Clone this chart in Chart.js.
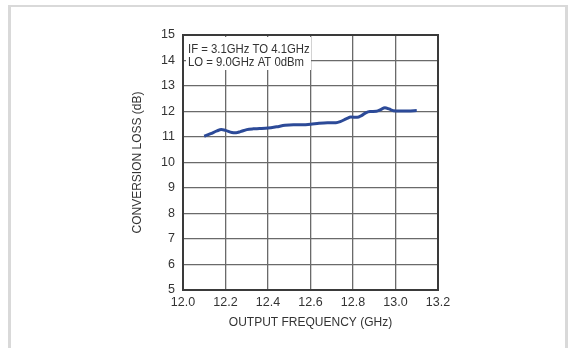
<!DOCTYPE html>
<html>
<head>
<meta charset="utf-8">
<script src="https://cdn.jsdelivr.net/npm/chart.js@4/dist/chart.umd.min.js"></script>
<style>
  html, body { margin: 0; padding: 0; background: #ffffff; width: 568px; height: 348px; overflow: hidden; }
  #frame { position: absolute; left: 8px; top: 5px; width: 554px; height: 360px; border: 3px solid #d9d9d9; border-top-width: 2px; box-sizing: content-box; }
  #wrap { position: absolute; left: 0; top: 0; width: 568px; height: 348px; }
</style>
</head>
<body>
<div id="frame"></div>
<div id="wrap"><canvas id="c" width="568" height="348"></canvas></div>
<script>
// ---- data ----
const freqGHz = [12.10, 12.13, 12.16, 12.18, 12.20, 12.23, 12.25, 12.27, 12.30, 12.33, 12.36, 12.40, 12.44, 12.48, 12.52, 12.56, 12.60, 12.64, 12.68, 12.72, 12.74, 12.77, 12.79, 12.82, 12.84, 12.86, 12.88, 12.91, 12.93, 12.95, 12.97, 12.99, 13.02, 13.06, 13.10];
const conversionLossDb = [11.03, 11.13, 11.24, 11.29, 11.26, 11.18, 11.17, 11.21, 11.29, 11.32, 11.33, 11.35, 11.40, 11.46, 11.48, 11.48, 11.50, 11.54, 11.56, 11.56, 11.60, 11.72, 11.78, 11.77, 11.84, 11.95, 12.00, 12.01, 12.07, 12.15, 12.10, 12.03, 12.02, 12.02, 12.04];
const xTickValues = [12.0, 12.2, 12.4, 12.6, 12.8, 13.0, 13.2];
const yTickValues = [5, 6, 7, 8, 9, 10, 11, 12, 13, 14, 15];
const annotationLines = ["IF = 3.1GHz TO 4.1GHz", "LO = 9.0GHz AT 0dBm"];
const xTitle = "OUTPUT FREQUENCY (GHz)";
const yTitle = "CONVERSION LOSS (dB)";

const FONT = "'Liberation Sans', Arial, sans-serif";
const TEXT = '#333333';

const points = freqGHz.map((f, i) => ({ x: f, y: conversionLossDb[i] }));

const framePlugin = {
  id: 'frameAndNote',
  beforeDatasetsDraw(chart) {
    const { ctx, chartArea: a } = chart;
    ctx.save();
    // annotation box (white, covers grid)
    ctx.fillStyle = '#ffffff';
    ctx.fillRect(a.left + 3, a.top + 2, 125, 33);
    ctx.fillStyle = TEXT;
    ctx.font = "13.5px " + FONT;
    ctx.textBaseline = 'alphabetic';
    ctx.textAlign = 'left';
    annotationLines.forEach((t, i) => {
      ctx.save();
      ctx.translate(a.left + 5, a.top + 18 + i * 13.3);
      ctx.scale(0.84, 1);
      ctx.fillText(t, 0, 0);
      ctx.restore();
    });
    // plot border
    ctx.strokeStyle = '#3a3a3a';
    ctx.lineWidth = 2;
    ctx.strokeRect(a.left, a.top, a.right - a.left, a.bottom - a.top);
    ctx.restore();
  }
};

new Chart(document.getElementById('c'), {
  type: 'line',
  data: {
    datasets: [{
      data: points,
      borderColor: '#2c4a98',
      borderWidth: 3,
      pointRadius: 0,
      tension: 0.3,
      cubicInterpolationMode: 'monotone',
      fill: false
    }]
  },
  options: {
    responsive: false,
    animation: false,
    devicePixelRatio: 1,
    layout: { padding: { left: 125, top: 35, right: 130, bottom: 18 } },
    plugins: { legend: { display: false }, tooltip: { enabled: false } },
    scales: {
      x: {
        type: 'linear',
        min: 12.0, max: 13.2,
        afterBuildTicks: s => { s.ticks = xTickValues.map(v => ({ value: v })); },
        afterFit: s => { s.height = 40; },
        grid: { color: '#6a6a6a', lineWidth: 1.3, drawTicks: false },
        border: { display: false },
        ticks: { padding: 5, color: TEXT, font: { family: FONT, size: 12.5 }, maxRotation: 0, callback: v => v.toFixed(1) },
        title: { display: true, text: xTitle, color: TEXT, font: { family: FONT, size: 12 }, padding: { top: 0, bottom: 0 } }
      },
      y: {
        type: 'linear',
        min: 5, max: 15,
        afterBuildTicks: s => { s.ticks = yTickValues.map(v => ({ value: v })); },
        afterFit: s => { s.width = 58; },
        grid: { color: '#6a6a6a', lineWidth: 1.3, drawTicks: false },
        border: { display: false },
        ticks: { padding: 8, color: TEXT, font: { family: FONT, size: 12.5 }, callback: v => String(v) },
        title: { display: true, text: yTitle, color: TEXT, font: { family: FONT, size: 12 }, padding: { top: 5, bottom: 0 } }
      }
    }
  },
  plugins: [framePlugin]
});
</script>
</body>
</html>
